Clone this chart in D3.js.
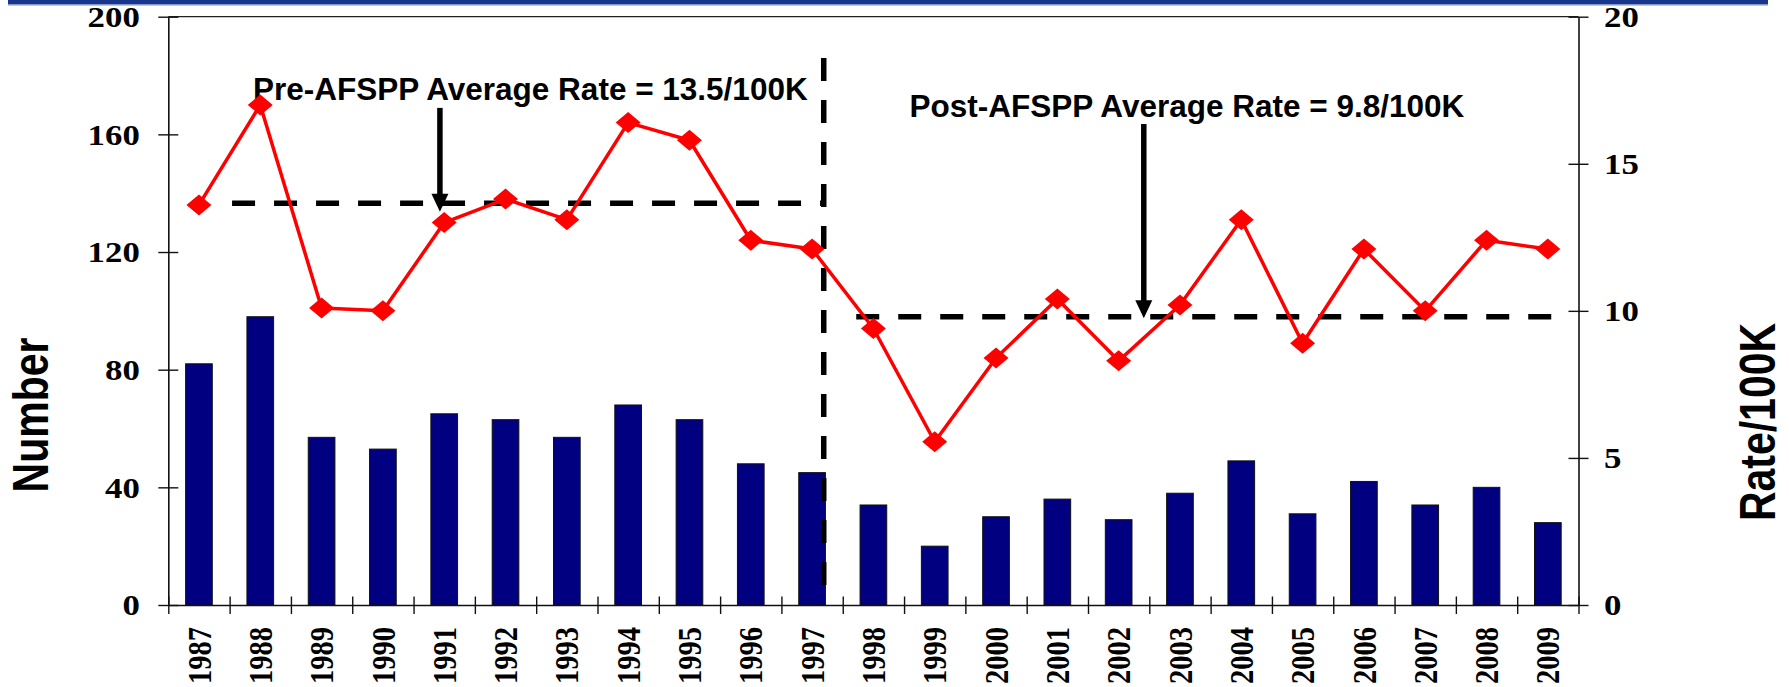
<!DOCTYPE html>
<html>
<head>
<meta charset="utf-8">
<script src="https://cdn.jsdelivr.net/npm/d3@7"></script>
<style>
  html, body { margin: 0; padding: 0; background: #ffffff; }
  svg { display: block; }
</style>
</head>
<body>
<svg id="chart" width="1789" height="687"></svg>
<script>
// ---------------- data ----------------
const years = ["1987","1988","1989","1990","1991","1992","1993","1994","1995","1996","1997",
               "1998","1999","2000","2001","2002","2003","2004","2005","2006","2007","2008","2009"];
const numbers = [82, 98, 57, 53, 65, 63, 57, 68, 63, 48, 45,
                 34, 20, 30, 36, 29, 38, 49, 31, 42, 34, 40, 28];
const rates = [13.6, 17.0, 10.1, 10.0, 13.0, 13.8, 13.1, 16.4, 15.8, 12.4, 12.1,
               9.4, 5.55, 8.4, 10.4, 8.3, 10.2, 13.1, 8.9, 12.1, 10.0, 12.4, 12.1];
const leftTicks = [0, 40, 80, 120, 160, 200];
const rightTicks = [0, 5, 10, 15, 20];
const preAverage = 13.66;   // drawn level of the pre-program average line
const postAverage = 9.8;    // drawn level of the post-program average line
const preLabel = "Pre-AFSPP Average Rate = 13.5/100K";
const postLabel = "Post-AFSPP Average Rate = 9.8/100K";
const leftTitle = "Number";
const rightTitle = "Rate/100K";

// ---------------- layout ----------------
const W = 1789, H = 687;
const plot = { left: 168.3, right: 1578.5, top: 16.7, bottom: 605 };
const stretch = 1.2; // horizontal stretch of the original image's text
// annotation geometry (in category-index units and rate units)
const layout = {
  preLine: { x0: 1.04, x1: 10.72 },
  postLine: { x0: 11.22, x1: 22.57 },
  divider: { x: 10.69, top: 18.6, bottom: 0.68 },
  preArrow: { x: 4.43, top: 16.9, tip: 13.37 },
  postArrow: { x: 15.91, top: 16.35, tip: 9.75 },
  preText: { x: 1.38, y: 17.17 },
  postText: { x: 12.09, y: 16.58 }
};

const svg = d3.select("#chart");

const x = d3.scaleBand().domain(years).range([plot.left, plot.right]).padding(0);
const xi = d3.scaleLinear().domain([0, years.length]).range([plot.left, plot.right]);
const yL = d3.scaleLinear().domain([0, 200]).range([plot.bottom, plot.top]);
const yR = d3.scaleLinear().domain([0, 20]).range([plot.bottom, plot.top]);
const bw = x.bandwidth();
const barW = bw * 0.435;

// top banner rule
svg.append("rect").attr("x", 8).attr("y", 0).attr("width", 1760).attr("height", 4.5)
  .attr("fill", "#17368c");
svg.append("rect").attr("x", 8).attr("y", 4.5).attr("width", 1760).attr("height", 1)
  .attr("fill", "#8094c6");

// top frame line
svg.append("line")
  .attr("x1", plot.left).attr("x2", plot.right)
  .attr("y1", plot.top).attr("y2", plot.top)
  .attr("stroke", "#222").attr("stroke-width", 1.3);

// bars
svg.append("g").selectAll("rect").data(years).join("rect")
  .attr("x", (d) => x(d) + (bw - barW) / 2)
  .attr("y", (d, i) => yL(numbers[i]))
  .attr("width", barW)
  .attr("height", (d, i) => yL(0) - yL(numbers[i]))
  .attr("fill", "#000080")
  .attr("stroke", "#111")
  .attr("stroke-width", 1);

// axes
const serif = "'Liberation Serif', 'Times New Roman', serif";
const sans = "'Liberation Sans', Arial, sans-serif";

const gL = svg.append("g").attr("transform", `translate(${plot.left},0)`)
  .call(d3.axisLeft(yL).tickValues(leftTicks).tickSize(0).tickSizeOuter(0).tickFormat(d3.format("d")));
gL.selectAll(".tick line").attr("x1", -10).attr("x2", 10).attr("stroke", "#111").attr("stroke-width", 1.4);
gL.select(".domain").attr("stroke", "#111").attr("stroke-width", 1.6);
gL.selectAll(".tick text")
  .attr("x", 0).attr("dy", "0.34em")
  .attr("transform", `translate(-28.5,0) scale(${stretch},1)`)
  .attr("text-anchor", "end")
  .style("font-family", serif).style("font-weight", "bold").style("font-size", "29px")
  .attr("fill", "#000");

const gR = svg.append("g").attr("transform", `translate(${plot.right},0)`)
  .call(d3.axisRight(yR).tickValues(rightTicks).tickSize(0).tickSizeOuter(0).tickFormat(d3.format("d")));
gR.selectAll(".tick line").attr("x1", -10).attr("x2", 10).attr("stroke", "#111").attr("stroke-width", 1.4);
gR.select(".domain").attr("stroke", "#111").attr("stroke-width", 1.6);
gR.selectAll(".tick text")
  .attr("x", 0).attr("dy", "0.34em")
  .attr("transform", `translate(25.5,0) scale(${stretch},1)`)
  .attr("text-anchor", "start")
  .style("font-family", serif).style("font-weight", "bold").style("font-size", "29px")
  .attr("fill", "#000");

// bottom axis: boundary ticks
const gB = svg.append("g").attr("transform", `translate(0,${plot.bottom})`)
  .call(d3.axisBottom(xi).tickValues(d3.range(years.length + 1)).tickSize(0).tickSizeOuter(0).tickFormat(""));
gB.selectAll(".tick line").attr("y1", -8.5).attr("y2", 9).attr("stroke", "#111").attr("stroke-width", 1.4);
gB.select(".domain").attr("stroke", "#111").attr("stroke-width", 1.6);

// bottom axis labels
const gBL = svg.append("g").attr("transform", `translate(0,${plot.bottom})`)
  .call(d3.axisBottom(x).tickSize(0).tickSizeOuter(0));
gBL.select(".domain").remove();
gBL.selectAll(".tick text")
  .attr("x", 0).attr("y", 0).attr("dy", "0.34em")
  .attr("transform", `translate(0,22) scale(${stretch},1) rotate(-90)`)
  .attr("text-anchor", "end")
  .style("font-family", serif).style("font-weight", "bold").style("font-size", "28.5px")
  .attr("fill", "#000");

// axis titles
svg.append("text")
  .attr("transform", `translate(30,415) scale(${stretch},1) rotate(-90)`)
  .attr("text-anchor", "middle").attr("dy", "0.36em")
  .style("font-family", sans).style("font-weight", "bold").style("font-size", "41px")
  .text(leftTitle);
svg.append("text")
  .attr("transform", `translate(1757,422) scale(${stretch},1) rotate(-90)`)
  .attr("text-anchor", "middle").attr("dy", "0.36em")
  .style("font-family", sans).style("font-weight", "bold").style("font-size", "41px")
  .text(rightTitle);

// dashed average lines and divider
const dash = "23,19";
svg.append("line")
  .attr("x1", xi(layout.preLine.x0)).attr("x2", xi(layout.preLine.x1))
  .attr("y1", yR(preAverage)).attr("y2", yR(preAverage))
  .attr("stroke", "#000").attr("stroke-width", 5.5).attr("stroke-dasharray", dash);
svg.append("line")
  .attr("x1", xi(layout.postLine.x0)).attr("x2", xi(layout.postLine.x1))
  .attr("y1", yR(postAverage)).attr("y2", yR(postAverage))
  .attr("stroke", "#000").attr("stroke-width", 5.5).attr("stroke-dasharray", dash);
svg.append("line")
  .attr("x1", xi(layout.divider.x)).attr("x2", xi(layout.divider.x))
  .attr("y1", yR(layout.divider.top)).attr("y2", yR(layout.divider.bottom))
  .attr("stroke", "#000").attr("stroke-width", 5.5).attr("stroke-dasharray", dash);

// arrows
function arrow(a) {
  const ax = xi(a.x), top = yR(a.top), tip = yR(a.tip);
  const headLen = 18, headHalf = 8.5;
  svg.append("line")
    .attr("x1", ax).attr("x2", ax).attr("y1", top).attr("y2", tip - headLen + 1)
    .attr("stroke", "#000").attr("stroke-width", 5.5);
  svg.append("path")
    .attr("d", `M${ax - headHalf},${tip - headLen} L${ax + headHalf},${tip - headLen} L${ax},${tip} Z`)
    .attr("fill", "#000");
}
arrow(layout.preArrow);
arrow(layout.postArrow);

// annotation text
svg.append("text")
  .attr("x", xi(layout.preText.x)).attr("y", yR(layout.preText.y))
  .style("font-family", sans).style("font-weight", "bold").style("font-size", "31.5px")
  .text(preLabel);
svg.append("text")
  .attr("x", xi(layout.postText.x)).attr("y", yR(layout.postText.y))
  .style("font-family", sans).style("font-weight", "bold").style("font-size", "31.5px")
  .text(postLabel);

// rate line
const pts = years.map((y, i) => ({ year: y, rate: rates[i] }));
svg.append("path")
  .datum(pts)
  .attr("d", d3.line().x((d) => x(d.year) + bw / 2).y((d) => yR(d.rate)))
  .attr("fill", "none").attr("stroke", "#ff0000").attr("stroke-width", 3.5)
  .attr("stroke-linejoin", "round");
svg.append("g").selectAll("path").data(pts).join("path")
  .attr("transform", (d) => `translate(${x(d.year) + bw / 2},${yR(d.rate)})`)
  .attr("d", "M0,-10.5 L12.5,0 L0,10.5 L-12.5,0 Z")
  .attr("fill", "#ff0000");
</script>
</body>
</html>
